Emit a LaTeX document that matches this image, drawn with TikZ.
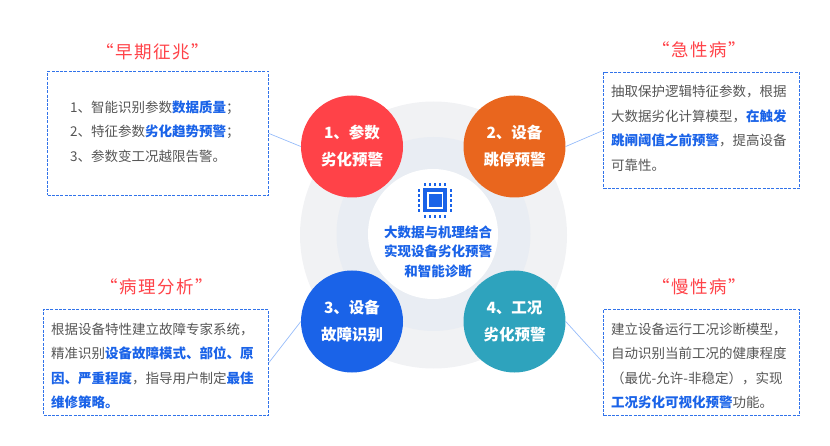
\documentclass[tikz,border=0pt]{standalone}
\usepackage{fontspec}
\setmainfont{Noto Sans CJK SC}
\newfontfamily\titlefont[LetterSpace=9]{Noto Sans CJK SC}
\usepackage{xcolor}
\usetikzlibrary{positioning}
\definecolor{alertred}{RGB}{255, 66, 72}
\definecolor{tripOrange}{RGB}{233, 102, 30}
\definecolor{faultblue}{RGB}{26, 99, 232}
\definecolor{trendteal}{RGB}{46, 163, 189}
\definecolor{ringouter}{RGB}{241, 242, 244}
\definecolor{ringmiddle}{RGB}{233, 237, 243}
\definecolor{bodygray}{RGB}{85, 85, 85}
\definecolor{linkblue}{RGB}{150, 188, 250}
\newcommand{\hl}[1]{\textbf{\textcolor{faultblue}{#1}}}

\begin{document}
\begin{tikzpicture}[
  x=1pt, y=-1pt,
  ring/.style={circle, inner sep=0pt, minimum size=#1},
  topic/.style={circle, inner sep=0pt, minimum size=102pt, text=white, align=center,
    font=\fontsize{15.5}{27}\selectfont\bfseries},
  infobox/.style={draw=faultblue!90, line width=1pt, dash pattern=on 3pt off 1.3pt, inner sep=0pt},
  bodytext/.style={anchor=west, inner sep=0pt, align=left, text=bodygray,
    font=\fontsize{13.5}{24.5}\selectfont},
  headline/.style={text=alertred, inner sep=0pt, font=\fontsize{17.5}{20}\selectfont\titlefont},
  link/.style={draw=linkblue, line width=0.7pt},
  pin/.style={fill=faultblue, inner sep=0pt, minimum size=2.6pt}
]
\useasboundingbox (0,0) rectangle (830,446);

% Rings behind the four circles
\node[ring=267pt, fill=ringouter] (outerring) at (433.5,235) {};
\node[ring=194pt, fill=ringmiddle] (middlering) at (433.5,234) {};
\node[ring=130pt, fill=white] (innerring) at (433,234) {};

% Chip icon
\node[fill=faultblue, inner sep=0pt, minimum size=24pt] (chip) at (435,200.5) {};
\node[fill=white, inner sep=0pt, minimum size=16.5pt] (chiphole) at (chip) {};
\node[fill=faultblue, inner sep=0pt, minimum size=13pt] (chipcore) at (chip) {};
\foreach \d in {-10,-5,0,5,10} {
  \node[pin] (pint\d) at (435+\d,184.5) {};
  \node[pin] (pinb\d) at (435+\d,216.5) {};
  \node[pin] (pinl\d) at (419,200.5+\d) {};
  \node[pin] (pinr\d) at (451,200.5+\d) {};
}

% Centre text
\node[align=center, inner sep=0pt, text=faultblue, font=\fontsize{13.5}{19.5}\selectfont\bfseries] (centre)
  at (438,251.5) {大数据与机理结合\\实现设备劣化预警\\和智能诊断};

% Four circles
\node[topic, fill=alertred] (param) at (352,146.5) {1、参数\\劣化预警};
\node[topic, fill=tripOrange] (trip) at (514.5,146.5) {2、设备\\跳停预警};
\node[topic, fill=faultblue] (fault) at (352,321.5) {3、设备\\故障识别};
\node[topic, fill=trendteal] (trend) at (514.5,321.5) {4、工况\\劣化预警};

% Boxes
\node[infobox, minimum width=221pt, minimum height=124pt] (boxearly) at (158,133.5) {};
\node[infobox, minimum width=196pt, minimum height=116pt] (boxacute) at (701.5,130.5) {};
\node[infobox, minimum width=225pt, minimum height=106pt] (boxcause) at (156,362.5) {};
\node[infobox, minimum width=196pt, minimum height=106pt] (boxchronic) at (701.5,362.5) {};

% Box texts
\node[bodytext] (textearly) at (70,131.5) {1、智能识别参数\hl{数据质量}；\\2、特征参数\hl{劣化趋势预警}；\\3、参数变工况越限告警。};
\node[bodytext] (textacute) at (611,128.5) {抽取保护逻辑特征参数，根据\\大数据劣化计算模型，\hl{在触发}\\\hl{跳闸阈值之前预警}，提高设备\\可靠性。};
\node[bodytext] (textcause) at (51,366) {根据设备特性建立故障专家系统，\\精准识别\hl{设备故障模式、部位、原}\\\hl{因、严重程度}，指导用户制定\hl{最佳}\\\hl{维修策略。}};
\node[bodytext] (textchronic) at (611,366) {建立设备运行工况诊断模型，\\自动识别当前工况的健康程度\\（最优-允许-非稳定），实现\\\hl{工况劣化可视化预警}功能。};

% Titles
\node[headline] (titleearly) at (153,52) {“早期征兆”};
\node[headline] (titleacute) at (699,50) {“急性病”};
\node[headline] (titlecause) at (157,287) {“病理分析”};
\node[headline] (titlechronic) at (699,287) {“慢性病”};

% Connectors
\draw[link] (boxearly.east) -- (param.west);
\draw[link] (boxacute.west) -- (trip.east);
\draw[link] (boxcause.east) -- (fault.west);
\draw[link] (boxchronic.west) -- (trend.east);

\end{tikzpicture}
\end{document}
